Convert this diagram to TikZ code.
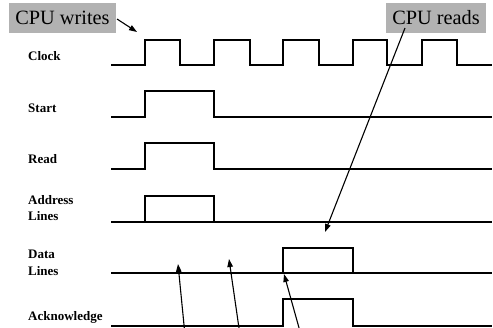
\documentclass[tikz,border=0pt]{standalone}
\usepackage{fontspec}
\setmainfont{Liberation Serif}
\usetikzlibrary{arrows.meta}
\definecolor{notegray}{HTML}{B2B2B2}
\tikzset{
  wave/.style={line width=1.6pt, line join=miter},
  siglabel/.style={anchor=base west, inner sep=0pt, font=\fontsize{13}{14}\selectfont\bfseries},
  note/.style={fill=notegray, inner sep=0pt, minimum height=30pt, font=\fontsize{20.3}{22}\selectfont},
  pointer/.style={line width=1.1pt, -{Triangle[length=8pt,width=5.5pt]}}
}
\begin{document}
\begin{tikzpicture}[x=1pt,y=-1pt]
\useasboundingbox (0,0) rectangle (493,327);
\clip (0,0) rectangle (493,327);

% signal names
\node[siglabel] (lclk) at (28,60) {Clock};
\node[siglabel] (lstart) at (28,112) {Start};
\node[siglabel] (lread) at (28,163) {Read};
\node[siglabel] (laddr) at (28,204) {Address};
\node[siglabel] (laddr2) at (28,220) {Lines};
\node[siglabel] (ldata) at (28,258) {Data};
\node[siglabel] (ldata2) at (28,275) {Lines};
\node[siglabel] (lack) at (28,320) {Acknowledge};

% clock
\draw[wave] (111,65) -- (145,65) -- (145,40) -- (180,40) -- (180,65)
  -- (214,65) -- (214,40) -- (250,40) -- (250,65)
  -- (283,65) -- (283,40) -- (319,40) -- (319,65)
  -- (353,65) -- (353,40) -- (387,40) -- (387,65)
  -- (422,65) -- (422,40) -- (457,40) -- (457,65) -- (492,65);

% start
\draw[wave] (111,117) -- (145,117) -- (145,91) -- (214,91) -- (214,117) -- (492,117);

% read
\draw[wave] (111,169) -- (145,169) -- (145,143) -- (214,143) -- (214,169) -- (492,169);

% address lines
\draw[wave] (111,222) -- (492,222);
\draw[wave] (145,222) -- (145,196) -- (214,196) -- (214,222);

% data lines
\draw[wave] (111,273) -- (492,273);
\draw[wave] (283,273) -- (283,248) -- (353,248) -- (353,273);

% acknowledge
\draw[wave] (111,326) -- (283,326) -- (283,299) -- (353,299) -- (353,326) -- (492,326);

% notes
\node[note, minimum width=107pt] (cw) at (62.5,18) {CPU writes};
\node[note, minimum width=100pt] (cr) at (436,18) {CPU reads};

\coordinate (cwtip) at (137,32);
\coordinate (crtail) at (405,28);
\coordinate (crtip) at (325,232);
\draw[pointer] (117,19) -- (cwtip);
\draw[pointer] (crtail) -- (crtip);

% pointers rising from below
\coordinate (b1) at (185,335);
\coordinate (t1) at (178,264);
\coordinate (b2) at (240,335);
\coordinate (t2) at (229,259);
\coordinate (b3) at (301,335);
\coordinate (t3) at (284,274);
\draw[pointer] (b1) -- (t1);
\draw[pointer] (b2) -- (t2);
\draw[pointer] (b3) -- (t3);
\end{tikzpicture}
\end{document}
